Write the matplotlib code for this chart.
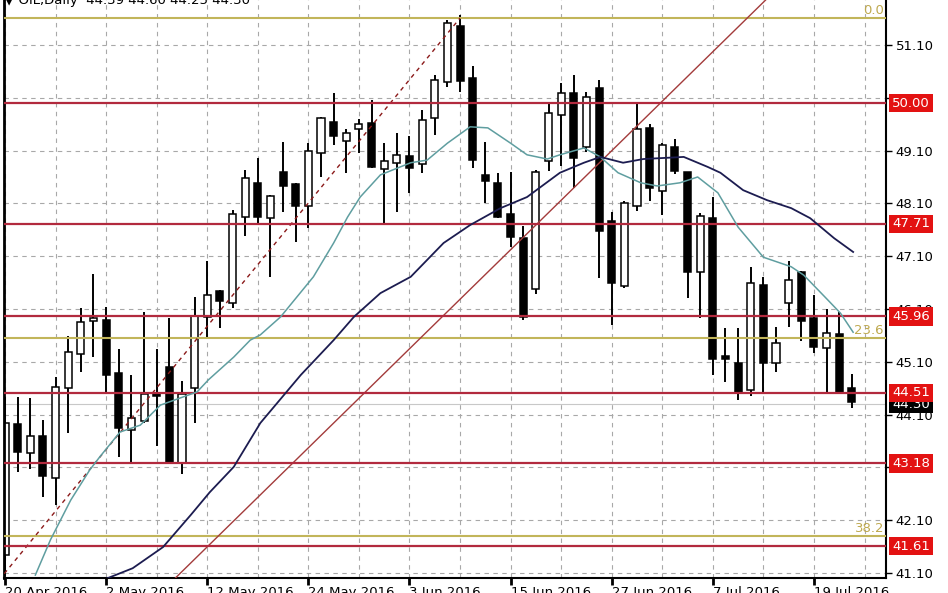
import matplotlib
matplotlib.use("Agg")
import matplotlib.pyplot as plt
import numpy as np

# daily candles, 20 Apr - 22 Jul 2016
opens = [41.45, 43.92, 43.37, 43.69, 42.90, 44.60, 45.25, 45.87, 45.89, 44.89,
         43.81, 43.98, 44.51, 45.00, 43.18, 44.60, 45.95, 46.44, 46.21, 47.84,
         48.49, 47.82, 48.69, 48.47, 48.05, 49.05, 49.64, 49.28, 49.51, 49.62,
         48.75, 48.87, 49.00, 48.85, 49.72, 50.40, 51.46, 50.48, 48.64, 48.49,
         47.90, 47.44, 46.48, 48.90, 49.77, 50.19, 49.17, 50.29, 47.77, 46.54,
         48.05, 49.53, 48.33, 49.17, 48.69, 46.80, 47.82, 45.19, 45.08, 44.57,
         46.55, 45.08, 46.21, 46.80, 45.93, 45.36, 45.63, 44.60]
highs = [44.43, 44.43, 44.41, 44.00, 44.81, 45.59, 46.12, 46.76, 46.14, 45.34,
         44.85, 46.04, 45.34, 45.93, 44.74, 46.33, 47.01, 46.46, 47.97, 48.73,
         48.96, 48.26, 49.26, 48.49, 49.24, 49.74, 50.19, 49.51, 49.70, 50.06,
         49.24, 49.43, 49.38, 49.87, 50.53, 51.57, 51.66, 50.70, 49.26, 48.68,
         48.69, 47.67, 48.73, 50.00, 50.38, 50.53, 50.21, 50.44, 47.94, 48.15,
         50.00, 49.60, 49.24, 49.32, 48.70, 47.92, 48.22, 45.74, 45.74, 46.90,
         46.71, 45.76, 47.01, 46.82, 46.37, 46.10, 46.04, 44.87]
lows = [41.05, 43.01, 43.07, 42.54, 42.39, 43.75, 44.91, 45.19, 44.51, 43.30,
        43.20, 43.94, 43.51, 43.18, 42.98, 43.94, 45.55, 45.74, 46.12, 47.48,
        47.73, 46.71, 47.94, 47.37, 47.63, 48.60, 49.21, 48.68, 49.05, 48.77,
        47.71, 47.94, 48.30, 48.68, 49.40, 50.30, 50.21, 48.77, 48.11, 47.82,
        47.27, 45.89, 46.38, 48.71, 48.81, 48.39, 49.07, 46.69, 45.80, 46.50,
        47.96, 48.15, 47.88, 48.66, 46.31, 45.93, 44.85, 44.72, 44.38, 44.45,
        44.51, 44.91, 45.76, 45.49, 45.27, 44.51, 44.49, 44.23]
closes = [43.94, 43.39, 43.69, 42.94, 44.62, 45.29, 45.85, 45.93, 44.85, 43.85,
          44.04, 44.49, 44.45, 43.20, 44.49, 45.97, 46.37, 46.25, 47.90, 48.58,
          47.84, 48.24, 48.43, 48.05, 49.09, 49.72, 49.38, 49.43, 49.60, 48.79,
          48.90, 49.02, 48.77, 49.68, 50.44, 51.52, 50.42, 48.92, 48.52, 47.84,
          47.46, 45.95, 48.69, 49.81, 50.19, 48.96, 50.12, 47.58, 46.59, 48.11,
          49.51, 48.39, 49.21, 48.71, 46.80, 47.86, 45.15, 45.16, 44.51, 46.59,
          45.08, 45.46, 46.65, 45.87, 45.38, 45.65, 44.51, 44.34]

date_labels = ["20 Apr 2016", "2 May 2016", "12 May 2016", "24 May 2016",
               "3 Jun 2016", "15 Jun 2016", "27 Jun 2016", "7 Jul 2016",
               "19 Jul 2016"]
label_bars = [0, 8, 16, 24, 32, 40, 48, 56, 64]
grid_bars = list(range(0, 70, 4))
price_ticks = [41.10, 42.10, 43.10, 44.10, 45.10, 46.10, 47.10, 48.10, 49.10, 50.10, 51.10]

# moving averages (bar position, price)
fast_x = [2.4, 3.6, 5.2, 6.7, 7.5, 9.1, 10.7, 12.3, 15.2, 16.1, 18.1, 19.4, 20.2,
          21.8, 24.4, 26.0, 27.1, 28.1, 29.7, 32.1, 33.4, 35.0, 36.8, 38.2, 40.0,
          41.3, 42.9, 43.9, 45.8, 47.1, 48.5, 50.3, 51.6, 53.4, 54.8, 56.4, 58.0,
          60.0, 62.2, 63.2, 65.1, 66.1, 67.1]
fast_y = [41.06, 41.73, 42.48, 43.05, 43.30, 43.77, 43.90, 44.28, 44.53, 44.76,
          45.19, 45.51, 45.61, 45.95, 46.71, 47.35, 47.84, 48.22, 48.64, 48.87,
          48.92, 49.24, 49.55, 49.53, 49.24, 49.02, 48.94, 49.02, 49.15, 48.98,
          48.68, 48.49, 48.43, 48.49, 48.60, 48.30, 47.65, 47.08, 46.90, 46.74,
          46.27, 46.02, 45.66]
slow_x = [8.1, 10.1, 12.5, 14.7, 16.2, 18.1, 20.2, 23.4, 26.0, 27.6, 29.7, 32.1,
          34.7, 36.8, 39.2, 41.3, 43.9, 45.8, 47.1, 48.9, 50.5, 53.7, 55.6, 56.6,
          58.4, 60.3, 62.2, 63.7, 65.6, 67.1]
slow_y = [41.00, 41.19, 41.59, 42.20, 42.63, 43.11, 43.94, 44.85, 45.51, 45.95,
          46.40, 46.71, 47.35, 47.69, 48.01, 48.22, 48.68, 48.87, 48.98, 48.87,
          48.94, 48.98, 48.79, 48.68, 48.35, 48.16, 48.01, 47.82, 47.44, 47.18]

red_levels = [50.00, 47.71, 45.96, 44.51, 43.18, 41.61]
fib_names = ["0.0", "23.6", "38.2"]
fib_levels = [51.61, 45.55, 41.80]
fib_bars = [-52, 36]
fib_prices = [25.93, 51.61]
trend_bars = [13.46, 60.17]
trend_prices = [41.00, 51.95]
last_price = 44.30

fig = plt.figure(figsize=(9.48, 5.93), dpi=100)
ax = fig.add_axes([4 / 948, 15 / 593, 882 / 948, 578 / 593])
ax.set_xlim(-0.08, 69.7)
ax.set_ylim(41.005, 51.952)

# grid
for g in grid_bars:
    ax.axvline(g, color="#a8a8a8", ls=(0, (4, 4)), lw=0.8, zorder=0)
for p in price_ticks:
    ax.axhline(p, color="#a8a8a8", ls=(0, (4, 4)), lw=0.8, zorder=0)

# candles
o = np.array(opens); h = np.array(highs); l = np.array(lows); c = np.array(closes)
idx = np.arange(len(o))
up = c >= o
ax.vlines(idx, l, h, color="black", lw=1.4, zorder=2)
ax.bar(idx, np.maximum(np.abs(c - o), 0.05), bottom=np.minimum(o, c), width=0.56,
       color=np.where(up, "white", "black"), edgecolor="black", lw=1.1, zorder=2.5)

# bid line
ax.axhline(last_price, color="#c8c8c8", lw=0.8, zorder=1)

# fibo + trend lines
for name, lvl in zip(fib_names, fib_levels):
    ax.axhline(lvl, color="#c2b55a", lw=1.5, zorder=3)
    ax.annotate(name, xy=(1, lvl), xycoords=ax.get_yaxis_transform(),
                xytext=(-2, 1), textcoords="offset pixels", ha="right", va="bottom",
                color="#bfa94f", fontsize=9.5, zorder=6)
ax.plot(fib_bars, fib_prices, color="#8b1a1a", ls=(0, (3, 3)), lw=1, zorder=4)
ax.plot(trend_bars, trend_prices, color="#a33b3b", lw=1, zorder=4)

# moving averages
ax.plot(fast_x, fast_y, color="#5f9ea0", lw=1.1, zorder=5)
ax.plot(slow_x, slow_y, color="#1c1c50", lw=1.3, zorder=5)

# horizontal levels
for lvl in red_levels:
    ax.axhline(lvl, color="#b22a3e", lw=1.6, zorder=4)

ax.annotate(f"{last_price:.2f}", xy=(1, last_price), xycoords=ax.get_yaxis_transform(),
            xytext=(6, 0), textcoords="offset pixels", ha="left", va="center",
            color="white", fontsize=9.5, annotation_clip=False, zorder=7,
            bbox=dict(boxstyle="square,pad=0.22", fc="black", ec="none"))
for lvl in red_levels:
    ax.annotate(f"{lvl:.2f}", xy=(1, lvl), xycoords=ax.get_yaxis_transform(),
                xytext=(6, 0), textcoords="offset pixels", ha="left", va="center",
                color="white", fontsize=9.5, annotation_clip=False, zorder=8,
                bbox=dict(boxstyle="square,pad=0.22", fc="#e31212", ec="none"))

# axes
ax.yaxis.tick_right()
ax.set_yticks(price_ticks, [f"{p:.2f}" for p in price_ticks])
ax.set_xticks(label_bars, date_labels, ha="left")
ax.tick_params(axis="y", length=4, width=1, pad=3, labelsize=9.5)
ax.tick_params(axis="x", length=5, width=2, pad=1, labelsize=9.5)
ax.spines["top"].set_visible(False)
ax.spines["left"].set_linewidth(2)
ax.spines["right"].set_linewidth(1.5)
ax.spines["bottom"].set_linewidth(1.5)

fig.text(0.004, 1 - 4 / 593, "\u25bc OIL,Daily  44.39 44.60 44.25 44.30",
         fontsize=9.5, va="baseline")

fig.savefig("out.png", dpi=100)
